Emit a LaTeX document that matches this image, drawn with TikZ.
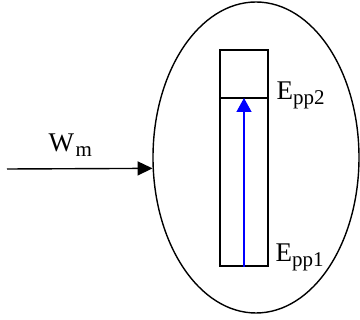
\documentclass[tikz,border=0pt]{standalone}
\usepackage{fontspec}
\setmainfont{Liberation Serif}
\usetikzlibrary{arrows.meta,shapes.geometric}

% lowered index, a bit larger than \textsubscript gives
\newcommand{\lowidx}[1]{\raisebox{-4.5pt}{\fontsize{21}{23}\selectfont #1}}

\begin{document}
\begin{tikzpicture}[x=1pt,y=-1pt,line width=1.4pt,
    lbl/.style={font=\fontsize{27}{29}\selectfont, inner sep=0pt, anchor=base west}]
    % fixed frame of the picture, y runs downwards like the pixels
    \useasboundingbox (0,0) rectangle (360,320);

    % the cell and the level box inside it
    \node[draw, ellipse, minimum width=206pt, minimum height=311pt, inner sep=0pt] (cell) at (256,157.5) {};
    \node[draw, rectangle, minimum width=48pt, minimum height=216pt, inner sep=0pt] (box) at (244,158) {};
    \coordinate (lvlL) at (220,98);
    \coordinate (lvlR) at (268,98);
    \draw (lvlL) -- (lvlR);

    % transition between the two levels
    \draw[blue, -{Triangle[length=14pt,width=15pt]}] (box.south) -- (box.south |- lvlL);

    % incoming work
    \coordinate (src) at (7,169);
    \draw[-{Triangle[length=15pt,width=14pt]}] (src) -- (cell.186.4);

    \node[lbl] (wm) at (48,152) {W\kern1.5pt\lowidx{m}};
    \node[lbl] (e2) at (276,100) {E\lowidx{pp2}};
    \node[lbl] (e1) at (275,262) {E\lowidx{pp1}};
\end{tikzpicture}
\end{document}
